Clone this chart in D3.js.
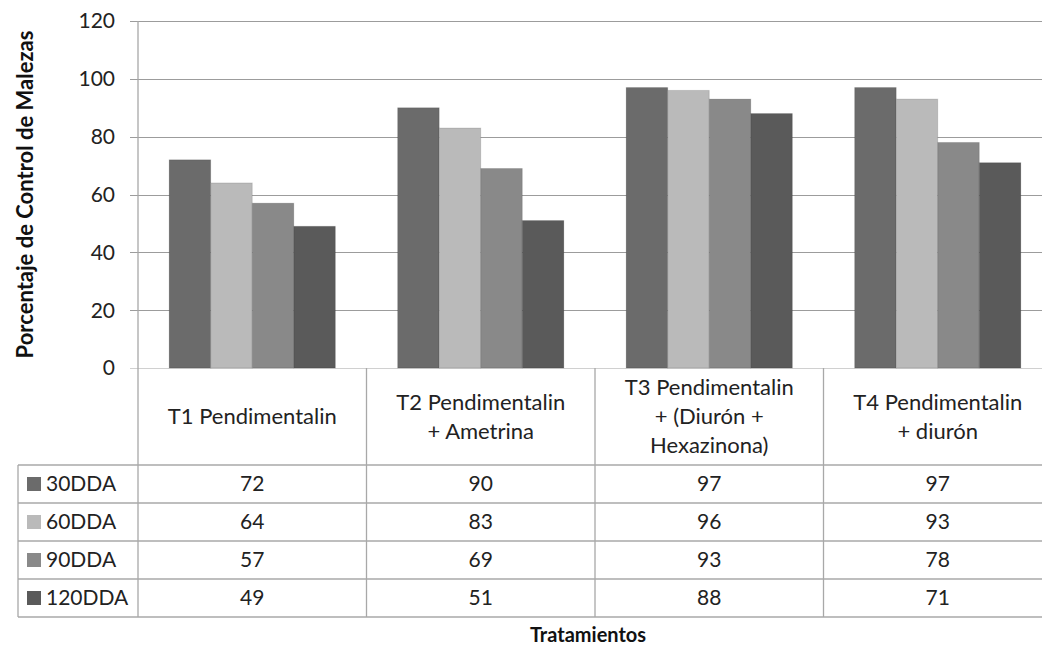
<!DOCTYPE html>
<html>
<head>
<meta charset="utf-8">
<script src="https://cdn.jsdelivr.net/npm/d3@7"></script>
<style>
  body { margin: 0; background: #fff; }
  text { font-family: Lato, "Open Sans", sans-serif; fill: #222; }
</style>
</head>
<body>
<div id="chart"></div>
<script>
// data
const categories = ["T1", "T2", "T3", "T4"];
const categoryLabels = [
  ["T1 Pendimentalin"],
  ["T2 Pendimentalin", "+ Ametrina"],
  ["T3 Pendimentalin", "+ (Diurón +", "Hexazinona)"],
  ["T4 Pendimentalin", "+ diurón"]
];
const seriesNames = ["30DDA", "60DDA", "90DDA", "120DDA"];
const dda30 = [72, 90, 97, 97];
const dda60 = [64, 83, 96, 93];
const dda90 = [57, 69, 93, 78];
const dda120 = [49, 51, 88, 71];
const yTicks = [0, 20, 40, 60, 80, 100, 120];
const seriesColors = ["#6b6b6b", "#bababa", "#898989", "#5a5a5a"];

const seriesValues = [dda30, dda60, dda90, dda120];

const width = 1042, height = 648;
const plotLeft = 138, colW = 228.5;
const plotTop = 21, base = 368;
const headerBottom = 465, rowH = 38;
const tableLeft = 18;

const svg = d3.select("#chart").append("svg")
  .attr("width", width)
  .attr("height", height);

const x = d3.scaleBand()
  .domain(categories)
  .range([plotLeft, plotLeft + colW * categories.length])
  .paddingInner(0)
  .paddingOuter(0);

const xs = d3.scaleBand()
  .domain(seriesNames)
  .range([0, x.bandwidth()])
  .paddingInner(0)
  .paddingOuter(0.75);

const y = d3.scaleLinear()
  .domain([0, 120])
  .range([base, plotTop]);

// gridlines
svg.append("g")
  .selectAll("line")
  .data(yTicks)
  .enter().append("line")
  .attr("x1", plotLeft - 8)
  .attr("x2", width)
  .attr("y1", d => Math.round(y(d)) + 0.5)
  .attr("y2", d => Math.round(y(d)) + 0.5)
  .attr("stroke", d => d === 0 ? "#d0d0d0" : "#9c9c9c")
  .attr("stroke-width", 1.2);

// tick labels
svg.append("g")
  .selectAll("text")
  .data(yTicks)
  .enter().append("text")
  .attr("x", 115)
  .attr("y", d => y(d))
  .attr("dy", "0.35em")
  .attr("text-anchor", "end")
  .style("font-size", "21px")
  .text(d => d);

// bars
const groups = svg.append("g")
  .selectAll("g")
  .data(seriesNames)
  .enter().append("g")
  .attr("fill", (d, i) => seriesColors[i]);

groups.selectAll("rect")
  .data((s, i) => categories.map((c, j) => ({ c: c, s: s, v: seriesValues[i][j] })))
  .enter().append("rect")
  .attr("x", d => x(d.c) + xs(d.s))
  .attr("y", d => y(d.v))
  .attr("width", xs.bandwidth())
  .attr("height", d => base - y(d.v))
  .attr("stroke", "rgba(0,0,0,0.12)")
  .attr("stroke-width", 1);

// table lines
const tableBottom = headerBottom + rowH * seriesNames.length;
const lines = svg.append("g").attr("stroke", "#a8a8a8").attr("stroke-width", 1.3);

// y axis line
lines.append("line")
  .attr("x1", plotLeft).attr("x2", plotLeft)
  .attr("y1", plotTop).attr("y2", tableBottom);

// column separators
lines.selectAll("line.col")
  .data(categories.slice(1).concat(["end"]))
  .enter().append("line")
  .attr("class", "col")
  .attr("x1", d => d === "end" ? x.range()[1] : x(d))
  .attr("x2", d => d === "end" ? x.range()[1] : x(d))
  .attr("y1", base)
  .attr("y2", tableBottom);

// row lines
lines.selectAll("line.row")
  .data(d3.range(seriesNames.length + 1))
  .enter().append("line")
  .attr("class", "row")
  .attr("x1", tableLeft).attr("x2", width)
  .attr("y1", d => headerBottom + d * rowH)
  .attr("y2", d => headerBottom + d * rowH);

lines.append("line")
  .attr("x1", tableLeft).attr("x2", tableLeft)
  .attr("y1", headerBottom).attr("y2", tableBottom);

// header labels
const headerMid = (base + headerBottom) / 2;
const lineH = 29;
categories.forEach((c, j) => {
  const lbl = categoryLabels[j];
  svg.append("text")
    .attr("text-anchor", "middle")
    .style("font-size", "22px")
    .selectAll("tspan")
    .data(lbl)
    .enter().append("tspan")
    .attr("x", x(c) + x.bandwidth() / 2)
    .attr("y", (d, k) => headerMid + (k - (lbl.length - 1) / 2) * lineH)
    .attr("dy", "0.35em")
    .text(d => d);
});

// rows: legend key + values
seriesNames.forEach((s, i) => {
  const cy = headerBottom + i * rowH + rowH / 2;
  svg.append("rect")
    .attr("x", 27).attr("y", cy - 7)
    .attr("width", 14).attr("height", 14)
    .attr("fill", seriesColors[i]);
  svg.append("text")
    .attr("x", 46).attr("y", cy)
    .attr("dy", "0.35em")
    .style("font-size", "21px")
    .text(s);
  svg.append("g")
    .selectAll("text")
    .data(seriesValues[i])
    .enter().append("text")
    .attr("x", (d, j) => x(categories[j]) + x.bandwidth() / 2)
    .attr("y", cy)
    .attr("dy", "0.35em")
    .attr("text-anchor", "middle")
    .style("font-size", "21px")
    .text(d => d);
});

// axis titles
svg.append("text")
  .attr("transform", `translate(33,${(plotTop + base) / 2}) rotate(-90)`)
  .attr("text-anchor", "middle")
  .style("font-size", "22px")
  .style("font-weight", "bold")
  .style("fill", "#111")
  .text("Porcentaje de Control de Malezas");

svg.append("text")
  .attr("x", 588).attr("y", 635)
  .attr("dy", "0.35em")
  .attr("text-anchor", "middle")
  .style("font-size", "20px")
  .style("font-weight", "bold")
  .style("fill", "#111")
  .text("Tratamientos");
</script>
</body>
</html>
